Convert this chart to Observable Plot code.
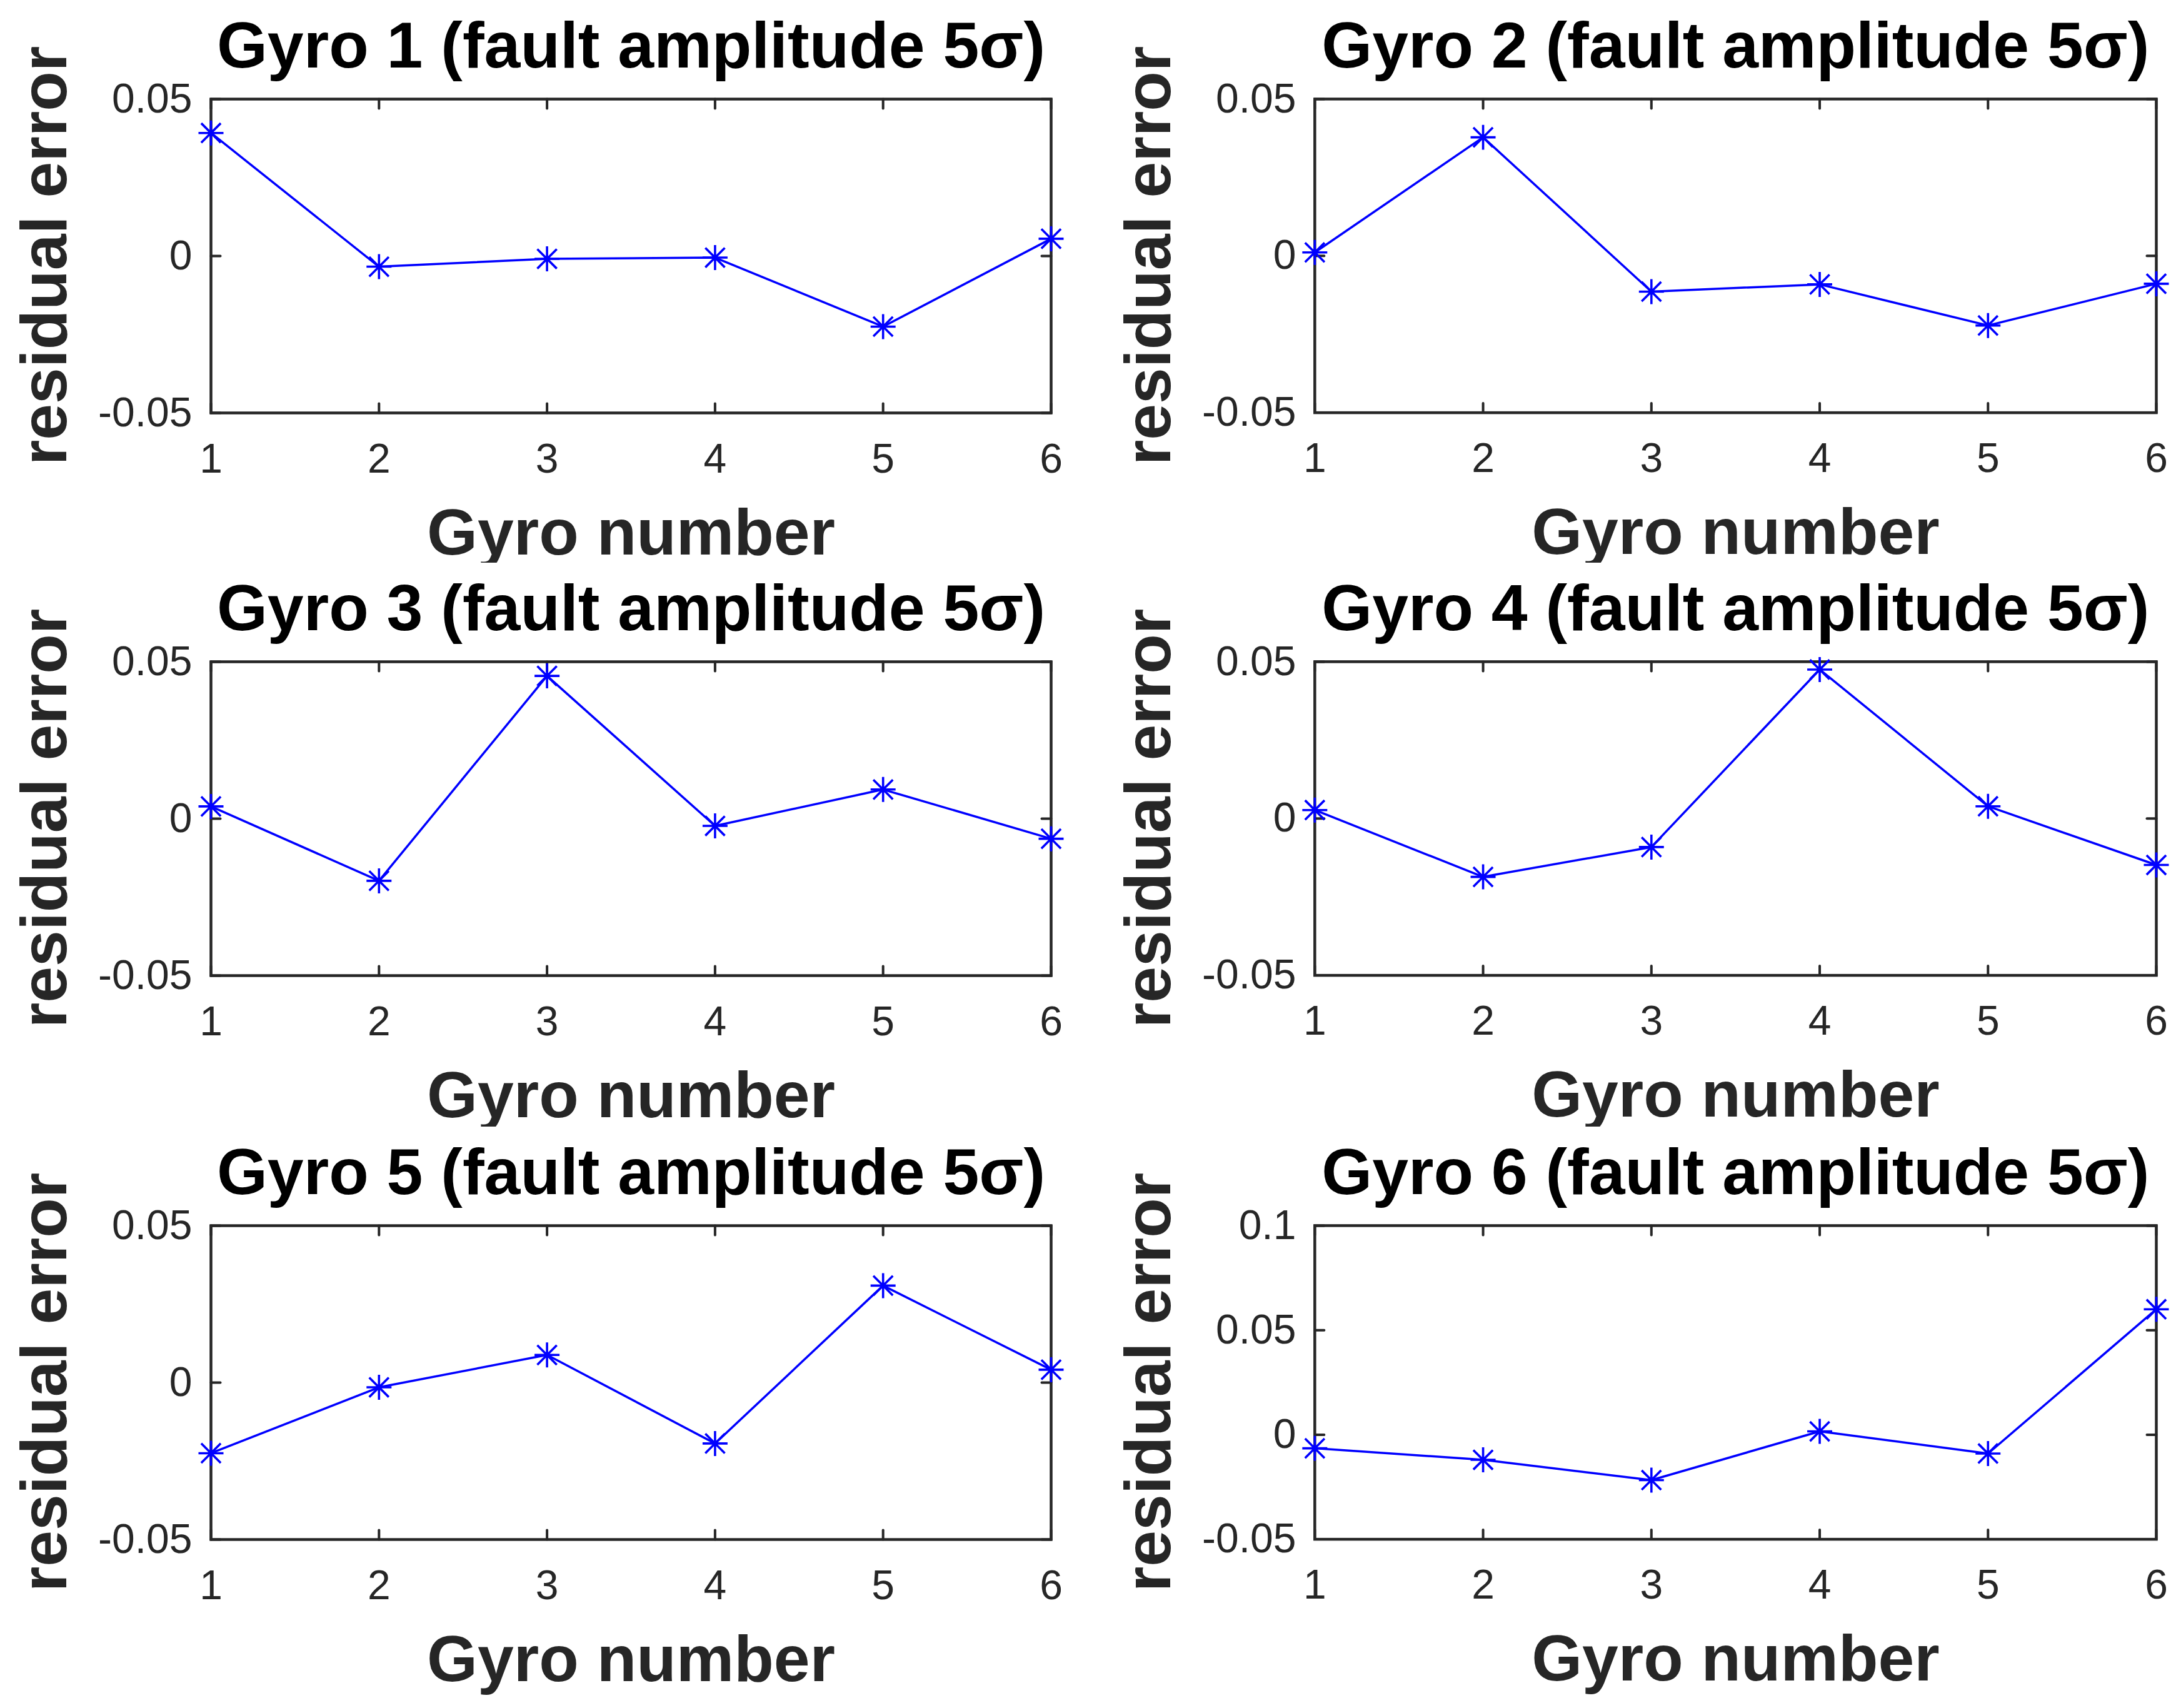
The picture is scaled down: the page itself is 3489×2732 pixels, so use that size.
<!DOCTYPE html>
<html>
<head>
<meta charset="utf-8">
<script src="https://cdn.jsdelivr.net/npm/d3@7"></script>
<script src="https://cdn.jsdelivr.net/npm/@observablehq/plot@0.6"></script>
<style>
  html, body { margin: 0; padding: 0; background: #ffffff; }
  #root { position: relative; width: 3489px; height: 2732px; background: #ffffff; overflow: hidden; }
  .panel { position: absolute; }
  .ylabel-anchor { position: absolute; width: 0; height: 0; }
  .ylabel {
    position: absolute; left: 0; top: 0;
    transform: translate(-50%, -50%) rotate(-90deg);
    font-family: 'Liberation Sans', Arial, Helvetica, sans-serif;
    font-weight: bold; font-size: 104px; line-height: 1;
    color: #262626; white-space: nowrap;
  }
</style>
</head>
<body>
<div id="root"></div>
<script>
// ---- data ----
const gyroNumbers = [1, 2, 3, 4, 5, 6];
const xTickValues = [1, 2, 3, 4, 5, 6];
const panelTitles = [
  "Gyro 1 (fault amplitude 5σ)",
  "Gyro 2 (fault amplitude 5σ)",
  "Gyro 3 (fault amplitude 5σ)",
  "Gyro 4 (fault amplitude 5σ)",
  "Gyro 5 (fault amplitude 5σ)",
  "Gyro 6 (fault amplitude 5σ)"
];
const residualGyro1 = [0.0392, -0.0034, -0.0009, -0.0005, -0.0225, 0.0055];
const residualGyro2 = [0.0011, 0.0378, -0.0114, -0.0091, -0.0222, -0.0089];
const residualGyro3 = [0.0039, -0.0198, 0.0455, -0.0023, 0.0093, -0.0064];
const residualGyro4 = [0.0027, -0.0186, -0.0091, 0.0475, 0.0039, -0.0148];
const residualGyro5 = [-0.0225, -0.0015, 0.0088, -0.0194, 0.0309, 0.0041];
const residualGyro6 = [-0.0065, -0.0120, -0.0217, 0.0016, -0.0090, 0.0600];
const yDomains = [
  [-0.05, 0.05], [-0.05, 0.05], [-0.05, 0.05],
  [-0.05, 0.05], [-0.05, 0.05], [-0.05, 0.1]
];
const yTickValues = [
  [-0.05, 0, 0.05], [-0.05, 0, 0.05], [-0.05, 0, 0.05],
  [-0.05, 0, 0.05], [-0.05, 0, 0.05], [-0.05, 0, 0.05, 0.1]
];
const yTickLabels = [
  ["-0.05", "0", "0.05"], ["-0.05", "0", "0.05"], ["-0.05", "0", "0.05"],
  ["-0.05", "0", "0.05"], ["-0.05", "0", "0.05"], ["-0.05", "0", "0.05", "0.1"]
];
const xAxisLabel = "Gyro number";
const yAxisLabel = "residual error";

const residualSeries = [residualGyro1, residualGyro2, residualGyro3, residualGyro4, residualGyro5, residualGyro6];

// ---- styling / layout ----
const FONT = "'Liberation Sans', Arial, Helvetica, sans-serif";
const AXIS_COLOR = "#262626";
const LINE_COLOR = "#0000ff";
const plotWidths = [1344, 1347];
const plotH = 502;
const mLeft = 337, mRight = 40, mTop = 158, mBottom = 250;
const colLeft = [0, 1766];
const rowTop = [0, 900, 1802];
const yLabelCenterX = 70;

// MATLAB-style '*' marker: plus + cross
const starSymbol = {
  draw(context, size) {
    const r = Math.sqrt(size / Math.PI);
    const d = r * 0.78;
    context.moveTo(-r, 0); context.lineTo(r, 0);
    context.moveTo(0, -r); context.lineTo(0, r);
    context.moveTo(-d, -d); context.lineTo(d, d);
    context.moveTo(-d, d); context.lineTo(d, -d);
  }
};
const tickShape = {
  draw(context, l) { context.moveTo(0, 0); context.lineTo(0, -l); }
};

const root = document.getElementById("root");

residualSeries.forEach((series, i) => {
  const data = gyroNumbers.map((g, k) => ({gyro: g, residual: series[k]}));
  const yt = yTickValues[i];
  const labels = yTickLabels[i];
  const plotW = plotWidths[i % 2];
  const tickCommon = {stroke: AXIS_COLOR, strokeWidth: 4, length: 15, anchor: "start", shape: tickShape};

  const chart = Plot.plot({
    width: mLeft + plotW + mRight,
    height: mTop + plotH + mBottom,
    marginLeft: mLeft, marginRight: mRight, marginTop: mTop, marginBottom: mBottom,
    style: {background: "#ffffff", fontFamily: FONT, overflow: "visible"},
    x: {domain: [1, 6], axis: null},
    y: {domain: yDomains[i], axis: null},
    marks: [
      // inward ticks on all four sides
      Plot.vector(xTickValues, {x: d => d, frameAnchor: "bottom", rotate: 0, ...tickCommon}),
      Plot.vector(xTickValues, {x: d => d, frameAnchor: "top", rotate: 180, ...tickCommon}),
      Plot.vector(yt, {y: d => d, frameAnchor: "left", rotate: 90, ...tickCommon}),
      Plot.vector(yt, {y: d => d, frameAnchor: "right", rotate: -90, ...tickCommon}),
      Plot.frame({stroke: AXIS_COLOR, strokeWidth: 4.5}),
      // tick labels
      Plot.text(xTickValues, {x: d => d, frameAnchor: "bottom", dy: 74, text: d => String(d),
        fontSize: 66, fill: AXIS_COLOR, lineAnchor: "middle"}),
      Plot.text(yt, {y: d => d, frameAnchor: "left", dx: -30, text: (d, k) => labels[k],
        textAnchor: "end", fontSize: 66, fill: AXIS_COLOR, lineAnchor: "middle"}),
      // data
      Plot.line(data, {x: "gyro", y: "residual", stroke: LINE_COLOR, strokeWidth: 3.5}),
      Plot.dot(data, {x: "gyro", y: "residual", symbol: starSymbol, r: 20, stroke: LINE_COLOR, strokeWidth: 3.6, fill: "none"}),
      // title & x label
      Plot.text([panelTitles[i]], {frameAnchor: "top", dy: -84, fontSize: 104, fontWeight: "bold",
        fill: "#000000", lineAnchor: "middle"}),
      Plot.text([xAxisLabel], {frameAnchor: "bottom", dy: 193, fontSize: 104, fontWeight: "bold",
        fill: AXIS_COLOR, lineAnchor: "middle"})
    ]
  });
  const left = colLeft[i % 2];
  const top = rowTop[Math.floor(i / 2)];
  const wrap = document.createElement("div");
  wrap.className = "panel";
  wrap.style.left = left + "px";
  wrap.style.top = top + "px";
  wrap.appendChild(chart);
  root.appendChild(wrap);

  // rotated y-axis label, centred on the plot frame
  const anchor = document.createElement("div");
  anchor.className = "ylabel-anchor";
  anchor.style.left = (left + yLabelCenterX) + "px";
  anchor.style.top = (top + mTop + plotH / 2) + "px";
  const lab = document.createElement("div");
  lab.className = "ylabel";
  lab.textContent = yAxisLabel;
  anchor.appendChild(lab);
  root.appendChild(anchor);
});
</script>
</body>
</html>
